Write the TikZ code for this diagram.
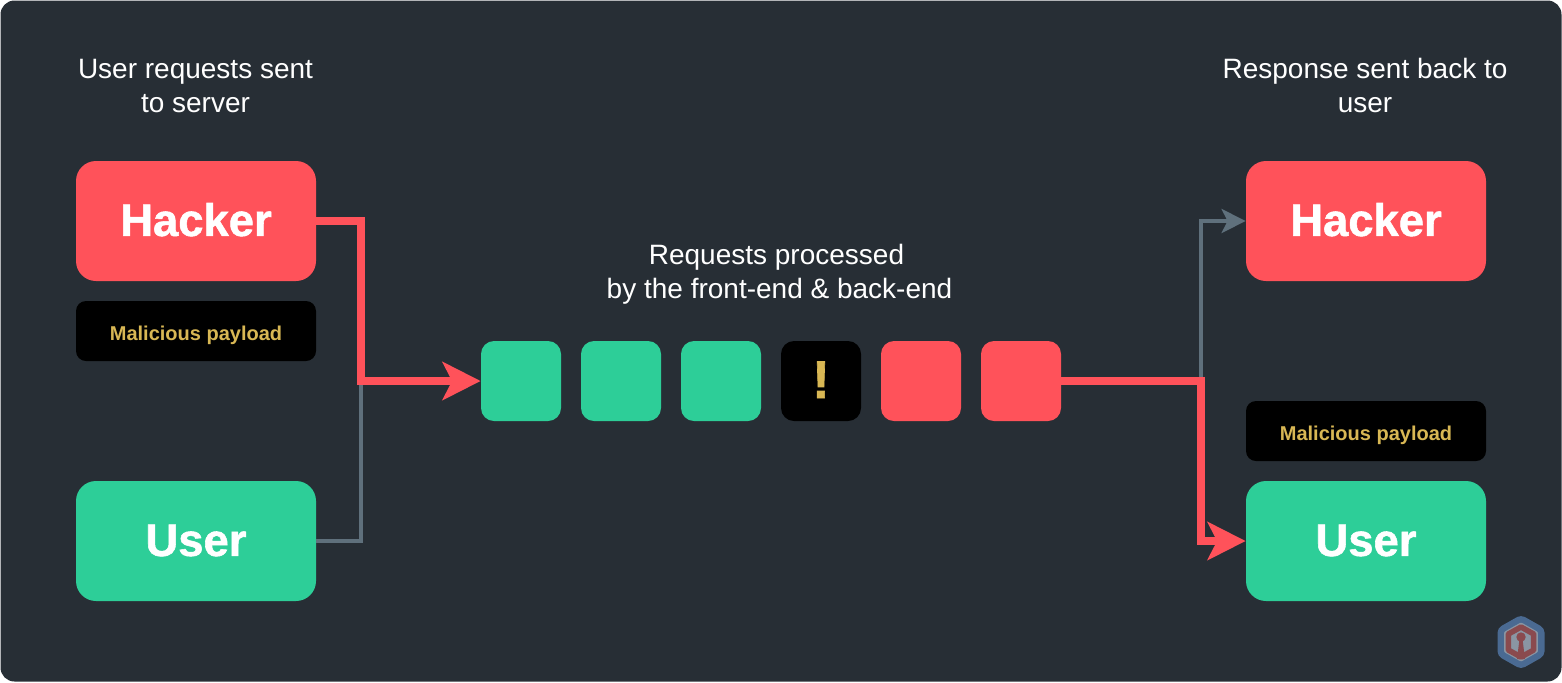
\documentclass[tikz,border=0pt]{standalone}
\usepackage{fontspec}
\setmainfont{Liberation Sans}
\newfontfamily\fatfont[BoldFeatures={FakeBold=1.2}]{Liberation Sans}
\usetikzlibrary{arrows.meta}
\definecolor{bgc}{HTML}{272E35}
\definecolor{redc}{HTML}{FF525A}
\definecolor{greenc}{HTML}{2DCE98}
\definecolor{goldc}{HTML}{D8B754}
\definecolor{grayc}{HTML}{5F707C}
\definecolor{hexblue}{HTML}{4A6A92}
\definecolor{hexfill}{HTML}{8A96A3}
\definecolor{hexred}{HTML}{8A4A4E}
\tikzset{
  box/.style={rectangle,rounded corners=10pt,minimum width=120pt,minimum height=60pt,inner sep=0pt,text=white,text height=16.4pt,text depth=1.5pt,font=\fontsize{22.7}{28}\selectfont\fatfont\bfseries},
  paybox/.style={rectangle,rounded corners=5pt,fill=black,minimum width=120pt,minimum height=30pt,inner sep=0pt,text=goldc,text height=11.3pt,text depth=2.1pt,font=\fontsize{10}{12}\selectfont\bfseries},
  sq/.style={rectangle,rounded corners=6.5pt,minimum width=40pt,minimum height=40pt,inner sep=0pt},
  warnsq/.style={sq,fill=black,text=goldc,text height=19pt,text depth=2pt,font=\fontsize{26.5}{28}\selectfont\fatfont\bfseries},
  captxt/.style={align=center,text=white,font=\fontsize{14}{17}\selectfont},
  redline/.style={draw=redc,line width=4pt,miter limit=10},
  grayline/.style={draw=grayc,line width=2pt,miter limit=10},
  redtip/.style={-{Stealth[length=19pt,width=19pt,inset=4.75pt]}},
  graytip/.style={-{Stealth[length=12pt,width=12pt,inset=3pt]}},
}
\begin{document}
\begin{tikzpicture}[x=0.5pt,y=-0.5pt]
\useasboundingbox (0,0) rectangle (1562,682);
\fill[bgc] (0.5,0.5) [rounded corners=7pt] rectangle (1561.5,681.5);

\node[captxt] (t1) at (195.5,85.5) {User requests sent\\to server};
\node[captxt] (t2) at (1365,85.5) {Response sent back to\\user};
\node[captxt] (t3) at (779.5,274.5) {Requests processed\hspace*{3pt}\\by the front-end \& back-end};

\node[box,fill=redc] (hackerL) at (196,221) {Hacker};
\node[paybox] (payL) at (196,331) {Malicious payload};
\node[box,fill=greenc] (userL) at (196,541) {User};

\node[sq,fill=greenc] (s1) at (521,381) {};
\node[sq,fill=greenc] (s2) at (621,381) {};
\node[sq,fill=greenc] (s3) at (721,381) {};
\node[warnsq] (s4) at (821,381) {!};
\node[sq,fill=redc] (s5) at (921,381) {};
\node[sq,fill=redc] (s6) at (1021,381) {};

\node[box,fill=redc] (hackerR) at (1366,221) {Hacker};
\node[paybox] (payR) at (1366,431) {Malicious payload};
\node[box,fill=greenc] (userR) at (1366,541) {User};

\coordinate (jL) at (361,381);
\coordinate (jR) at (1201,381);

\draw[grayline] (userL.east) -| (jL);
\draw[grayline,graytip] (jR) |- (hackerR.west);
\draw[redline,redtip] (hackerL.east) -| (jL) -- (s1.west);
\draw[redline,redtip] (s6.east) -- (jR) |- (userR.west);

% logo
\begin{scope}[shift={(1521,642)}]
\draw[hexblue,line width=3.2pt,fill=hexfill,rounded corners=1.5pt]
  (0,-23.5) -- (20.3,-12) -- (20.3,12) -- (0,23.5) -- (-20.3,12) -- (-20.3,-12) -- cycle;
\draw[hexred,line width=2.75pt,line join=round]
  (0,-15) -- (12.7,-8) -- (12.7,8) -- (0,15) -- (-12.7,8) -- (-12.7,-8) -- cycle;
\fill[hexred] (0,-5) circle[radius=2.35pt];
\fill[hexred] (-1.5,-3) -- (1.5,-3) -- (4,17) -- (-4,17) -- cycle;
\end{scope}
\end{tikzpicture}
\end{document}
